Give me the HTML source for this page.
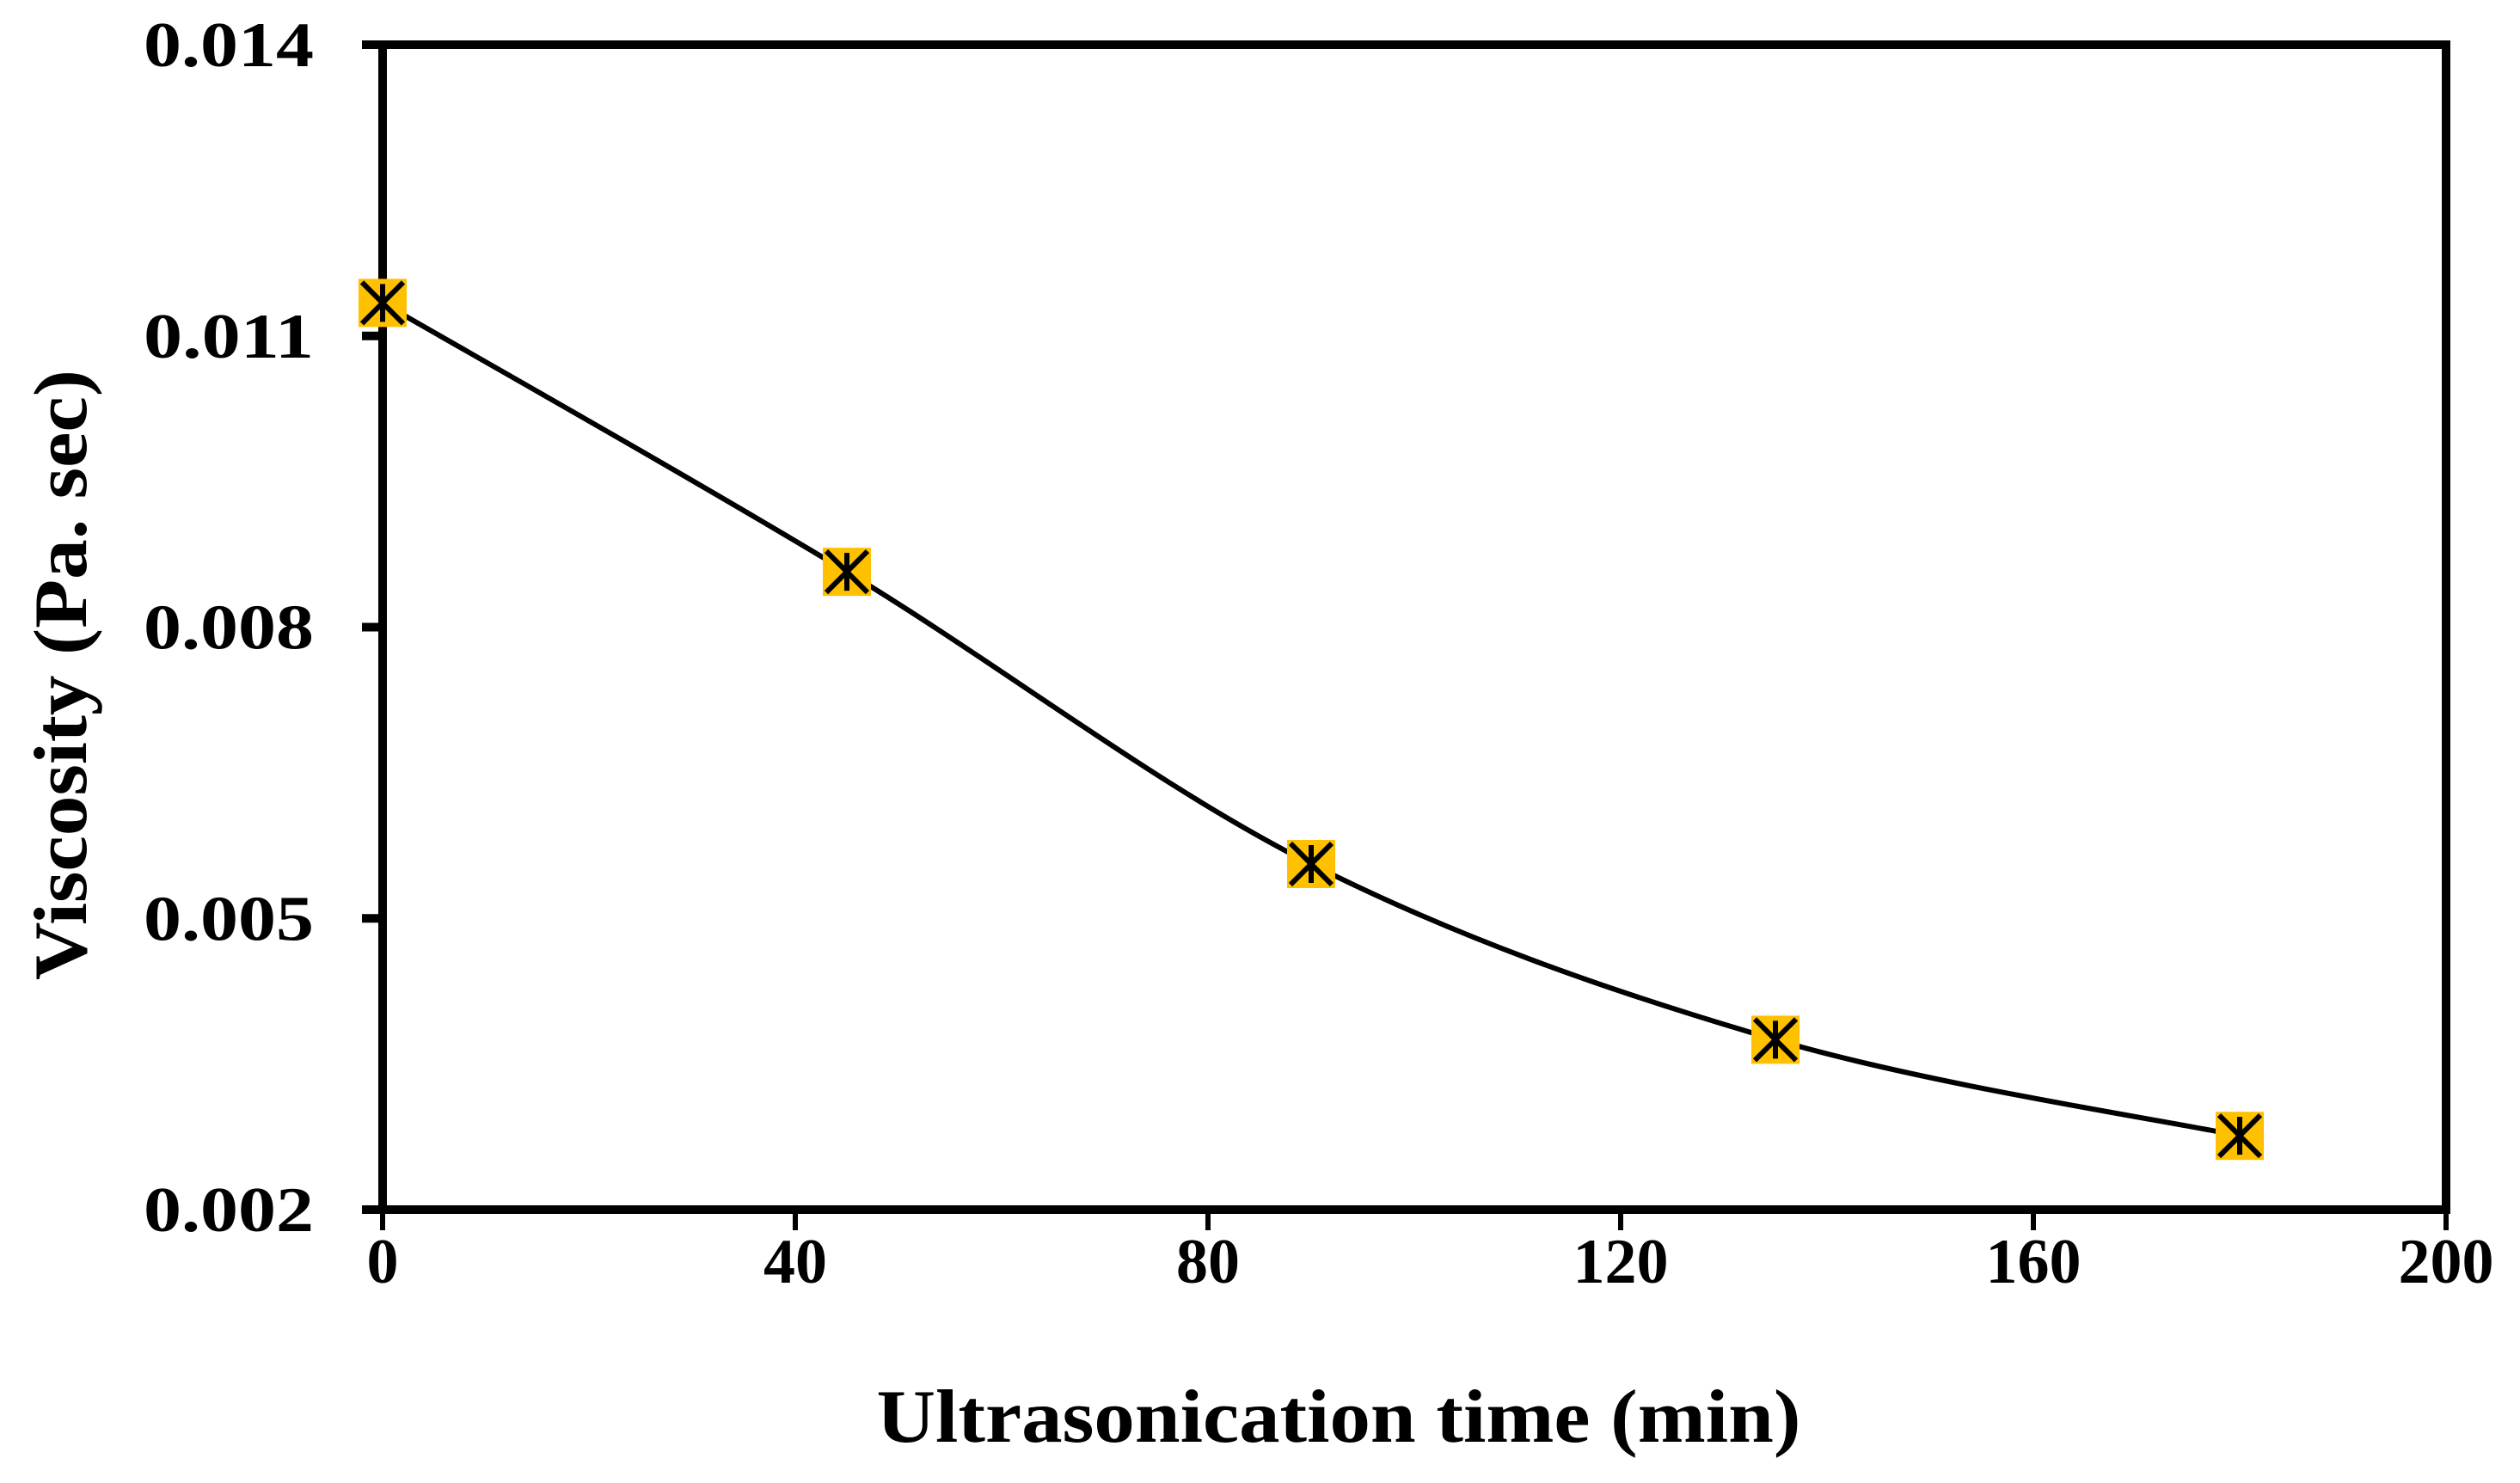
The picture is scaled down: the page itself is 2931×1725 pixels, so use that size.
<!DOCTYPE html>
<html><head><meta charset="utf-8"><style>
html,body{margin:0;padding:0;background:#fff;}
svg text{font-family:"Liberation Serif",serif;font-weight:bold;fill:#000;}
</style></head><body>
<svg id="chart" width="2931" height="1720" viewBox="0 0 2931 1720" xmlns="http://www.w3.org/2000/svg">
<g id="axes"></g><g id="series"></g>
</svg>
<script>
const xValues=[0,45,90,135,180];
const yValues=[0.01134,0.00857,0.00556,0.00375,0.00276];
const xTicks=[0,40,80,120,160,200];
const yTicks=[0.002,0.005,0.008,0.011,0.014];
const yTickLabels=["0.002","0.005","0.008","0.011","0.014"];
const L=445,R=2845,T=52,B=1407;
const xs=v=>L+(v-0)/(200-0)*(R-L);
const ys=v=>B-(v-0.002)/(0.014-0.002)*(B-T);
const NS="http://www.w3.org/2000/svg";
const axes=document.getElementById('axes'),ser=document.getElementById('series');
function mk(t,a,p){const e=document.createElementNS(NS,t);for(const k in a)e.setAttribute(k,a[k]);p.appendChild(e);return e;}
const frame=mk('rect',{x:L,y:T,width:R-L,height:B-T,fill:'none',stroke:'#000','stroke-width':10},axes);


yTicks.forEach((v,i)=>{
 const t=mk('line',{x1:L-24,x2:L,y1:ys(v),y2:ys(v),stroke:'#000','stroke-width':10},axes);
 
 
 const l=mk('text',{x:365,y:ys(v)+25,'text-anchor':'end','font-size':74,textLength:198,lengthAdjust:'spacingAndGlyphs'},axes);
 l.textContent=yTickLabels[i];
 
 
});
xTicks.forEach(v=>{
 const t=mk('line',{x1:xs(v),x2:xs(v),y1:B,y2:B+24,stroke:'#000','stroke-width':6},axes);
 
 
 const l=mk('text',{x:xs(v),y:1492,'text-anchor':'middle','font-size':74},axes);
 l.textContent=v;
 
 
});
const xt=mk('text',{x:1557,y:1677,'text-anchor':'middle','font-size':88,textLength:1075,lengthAdjust:'spacingAndGlyphs'},axes);
xt.textContent='Ultrasonication time (min)';


const yt=mk('text',{x:0,y:0,'text-anchor':'middle','font-size':88,textLength:710,lengthAdjust:'spacingAndGlyphs',transform:'translate(100,785) rotate(-90)'},axes);
yt.textContent='Viscosity (Pa. sec)';


const P=xValues.map((x,i)=>[xs(x),ys(yValues[i])]);
let d='M'+P[0][0]+','+P[0][1];
for(let i=0;i<P.length-1;i++){
 const p0=P[Math.max(0,i-1)],p1=P[i],p2=P[i+1],p3=P[Math.min(P.length-1,i+2)];
 const c1=[p1[0]+(p2[0]-p0[0])/6,p1[1]+(p2[1]-p0[1])/6];
 const c2=[p2[0]-(p3[0]-p1[0])/6,p2[1]-(p3[1]-p1[1])/6];
 d+=` C${c1[0]},${c1[1]} ${c2[0]},${c2[1]} ${p2[0]},${p2[1]}`;
}
const line=mk('path',{d:d,fill:'none',stroke:'#000','stroke-width':6},ser);


P.forEach(p=>{
 const g=mk('g',{},ser);
 
 
 const s=28;
 mk('rect',{x:p[0]-s,y:p[1]-s,width:2*s,height:2*s,fill:'#FFC000'},g);
 mk('path',{d:`M${p[0]-s+4},${p[1]-s+4}L${p[0]+s-4},${p[1]+s-4}M${p[0]+s-4},${p[1]-s+4}L${p[0]-s+4},${p[1]+s-4}M${p[0]},${p[1]-s+6}L${p[0]},${p[1]+s-6}`,stroke:'#000','stroke-width':6,fill:'none'},g);
});
</script>
</body></html>
